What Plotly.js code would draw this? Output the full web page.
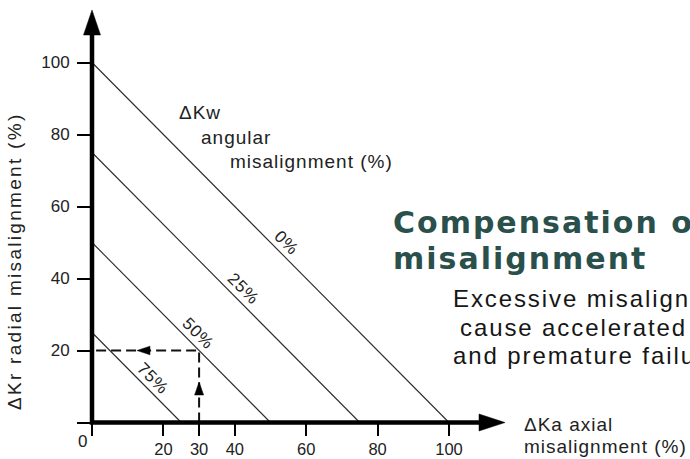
<!DOCTYPE html>
<html><head><meta charset="utf-8">
<script src="https://cdn.plot.ly/plotly-3.0.1.min.js"></script>
<style>html,body{margin:0;padding:0;overflow:hidden;background:#fff}</style>
<style id="spacing"></style>
</head><body><div id="chart" style="width:690px;height:459px"></div>
<script>
// ---- data ----
const lineLabels = ['0%', '25%', '50%', '75%'];          // ΔKw angular misalignment
const lineIntercepts = [100, 75, 50, 25];                 // ΔKa + ΔKr = intercept
const readAxial = 30;                                     // example ΔKa
const readRadial = 20;                                    // resulting ΔKr
const xTickVals = [0, 20, 30, 40, 60, 80, 100];
const xTickText = ['', '20', '30', '40', '60', '80', '100'];
const yTickVals = [0, 20, 40, 60, 80, 100];
const yTickText = ['', '20', '40', '60', '80', '100'];

// ---- geometry (pixel -> data helpers) ----
const W = 690, H = 459, X0 = 92, Y0 = 422.5, SX = 3.57, SY = 3.6;
const px2x = p => (p - X0) / SX;
const py2y = p => (Y0 - p) / SY;
const xRange = [px2x(0), px2x(W)];
const yRange = [py2y(H), py2y(0)];

const FONT = 'Liberation Sans, Arial, Helvetica, sans-serif';
const INK = '#222';

const traces = [];
// angular misalignment lines
lineIntercepts.forEach(c => {
  traces.push({x: [0, c], y: [c, 0], mode: 'lines', line: {color: '#2b2b2b', width: 1.1}, hoverinfo: 'skip'});
});
// dashed reading path
traces.push({x: [readAxial, readAxial, 0], y: [0, readRadial, readRadial], mode: 'lines',
  line: {color: '#111', width: 2, dash: '10px,5px'}, hoverinfo: 'skip'});
// small arrowheads on the reading path
const upTip = py2y(382), upBase = py2y(395), upHalf = 4.5 / SX;
traces.push({x: [readAxial - upHalf, readAxial, readAxial + upHalf, readAxial - upHalf],
  y: [upBase, upTip, upBase, upBase], mode: 'lines', fill: 'toself', fillcolor: '#000',
  line: {color: '#000', width: 0.5}, hoverinfo: 'skip'});
const lTip = px2x(137), lBase = px2x(150), lHalf = 4.3 / SY;
traces.push({x: [lBase, lTip, lBase, lBase], y: [readRadial + lHalf, readRadial, readRadial - lHalf, readRadial + lHalf],
  mode: 'lines', fill: 'toself', fillcolor: '#000', line: {color: '#000', width: 0.5}, hoverinfo: 'skip'});
// main axes with arrows
const xTip = px2x(505), xBase = px2x(479), yTip = py2y(10), yBase = py2y(35);
traces.push({x: [0, 0, xBase + 1], y: [yBase + 1, 0, 0], mode: 'lines', line: {color: '#000', width: 4.5}, hoverinfo: 'skip'});
const axHalfX = 8.5 / SX, axHalfY = 8.5 / SY;
traces.push({x: [-axHalfX, 0, axHalfX, -axHalfX], y: [yBase, yTip, yBase, yBase], mode: 'lines', fill: 'toself',
  fillcolor: '#000', line: {color: '#000', width: 0.5}, hoverinfo: 'skip'});
traces.push({x: [xBase, xTip, xBase, xBase], y: [axHalfY, 0, -axHalfY, axHalfY], mode: 'lines', fill: 'toself',
  fillcolor: '#000', line: {color: '#000', width: 0.5}, hoverinfo: 'skip'});

// ---- text ----
const annotations = [];
const spacing = [];
function txt(text, pxX, pxY, o) {
  o = o || {};
  annotations.push(Object.assign({
    text: text, x: px2x(pxX), y: py2y(pxY), xref: 'x', yref: 'y', showarrow: false,
    xanchor: 'left', yanchor: 'middle', align: 'left', borderpad: 0,
    font: {family: FONT, size: 19, color: INK}
  }, o));
  spacing.push(o.ls || 0);
}
txt('0', 82, 441, {xanchor: 'center', align: 'center', font: {family: FONT, size: 17, color: INK}});
txt('ΔKr radial misalignment (%)', 14, 262, {xanchor: 'center', align: 'center', textangle: -90, ls: 2.3});
txt('ΔKw', 178, 112, {ls: 1});
txt('angular', 200, 137, {ls: 1});
txt('misalignment (%)', 229, 161, {ls: 1});
const labelX = [54.6, 42.3, 29.7, 17.1];
lineLabels.forEach((lab, i) => {
  const c = lineIntercepts[i];
  annotations.push({text: lab, x: labelX[i], y: c - labelX[i] + 4.4, xref: 'x', yref: 'y', showarrow: false,
    textangle: 45, xanchor: 'center', yanchor: 'middle', font: {family: FONT, size: 17, color: INK}});
  spacing.push(0.8);
});
txt('ΔKa axial', 523, 424, {ls: 1});
txt('misalignment (%)', 523, 446, {ls: 1});
const TITLE = {family: 'DejaVu Sans, Liberation Sans, sans-serif', size: 30, color: '#2a504c', weight: 700};
txt('Compensation of', 392, 222, {font: TITLE, ls: 2});
txt('misalignment', 392, 258, {font: TITLE, ls: 2});
const BODY = {family: FONT, size: 24, color: '#161616'};
txt('Excessive misalignment can', 452, 298, {font: BODY, ls: 1.9});
txt('cause accelerated wear', 459, 327, {font: BODY, ls: 1.9});
txt('and premature failure.', 452, 355, {font: BODY, ls: 1.9});

document.getElementById('spacing').textContent = spacing.map((s, i) =>
  s ? `.annotation[data-index="${i}"] text{letter-spacing:${s}px}` : '').join('\n');

const layout = {
  width: W, height: H, margin: {l: 0, r: 0, t: 0, b: 0},
  paper_bgcolor: '#fff', plot_bgcolor: '#fff', showlegend: false,
  xaxis: {range: xRange, anchor: 'free', position: (0 - yRange[0]) / (yRange[1] - yRange[0]),
    showline: false, showgrid: false, zeroline: false, tickmode: 'array', tickvals: xTickVals, ticktext: xTickText,
    ticks: 'outside', ticklen: 12, tickwidth: 2, tickcolor: '#000', ticklabelstandoff: 0,
    tickfont: {family: FONT, size: 16.5, color: INK}, fixedrange: true},
  yaxis: {range: yRange, anchor: 'free', position: (0 - xRange[0]) / (xRange[1] - xRange[0]),
    showline: false, showgrid: false, zeroline: false, tickmode: 'array', tickvals: yTickVals, ticktext: yTickText,
    ticks: 'outside', ticklen: 15, tickwidth: 2, tickcolor: '#000', ticklabelstandoff: 4,
    tickfont: {family: FONT, size: 17, color: INK}, fixedrange: true},
  annotations: annotations
};
Plotly.newPlot('chart', traces, layout, {displayModeBar: false, staticPlot: true});
</script></body></html>
